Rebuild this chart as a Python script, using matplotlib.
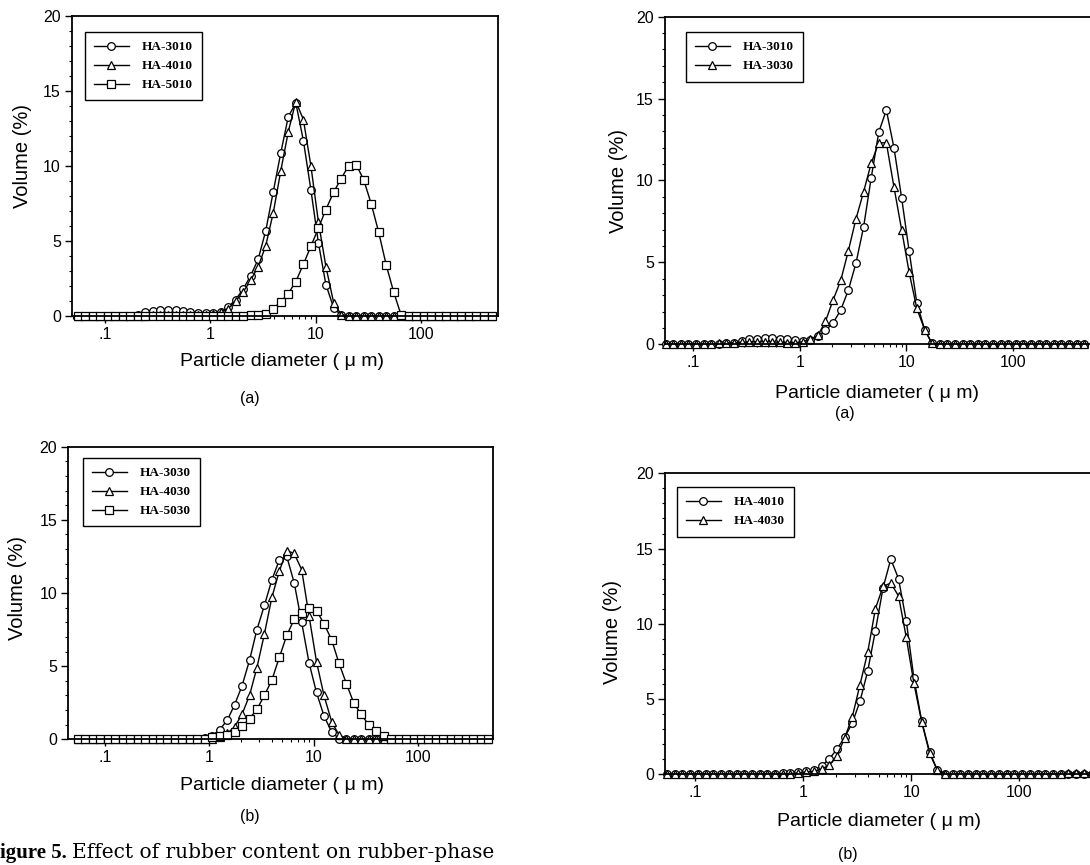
import matplotlib
matplotlib.use('Agg')
import matplotlib.pyplot as plt
from matplotlib.ticker import LogLocator, MultipleLocator, NullFormatter
from matplotlib.font_manager import FontProperties

# size channels of the analyser (um)
d_um = [0.055, 0.0648, 0.0764, 0.0901, 0.106, 0.125, 0.148, 0.174, 0.205, 0.242, 0.285, 0.336, 0.396, 0.467,
        0.55, 0.648, 0.764, 0.901, 1.06, 1.25, 1.48, 1.74, 2.05, 2.42, 2.85, 3.36, 3.96, 4.67,
        5.50, 6.48, 7.64, 9.01, 10.6, 12.5, 14.8, 17.4, 20.5, 24.2, 28.5, 33.6, 39.6, 46.7,
        55.0, 64.8, 76.4, 90.1, 106, 125, 148, 174, 205, 242, 285, 336, 396, 467]

# left (a): HA-3010 / HA-4010 / HA-5010
ha3010_a = [0, 0, 0, 0, 0, 0, 0, 0.02, 0.1, 0.25, 0.35, 0.42, 0.42, 0.38,
            0.32, 0.25, 0.2, 0.18, 0.2, 0.3, 0.6, 1.1, 1.8, 2.7, 3.8, 5.7, 8.3, 10.9,
            13.3, 14.2, 11.7, 8.4, 4.9, 2.1, 0.55, 0.05, 0, 0, 0, 0, 0, 0,
            0, 0, 0, 0, 0, 0, 0, 0, 0, 0, 0, 0, 0, 0]
ha4010_a = [0, 0, 0, 0, 0, 0, 0, 0, 0.02, 0.03, 0.05, 0.05, 0.05, 0.05,
            0.05, 0.05, 0.05, 0.1, 0.15, 0.25, 0.5, 1.0, 1.6, 2.4, 3.3, 4.7, 6.9, 9.7,
            12.3, 14.3, 13.1, 10.0, 6.3, 3.3, 0.9, 0.1, 0, 0, 0, 0, 0, 0,
            0, 0, 0, 0, 0, 0, 0, 0, 0, 0, 0, 0, 0, 0]
ha5010_a = [0, 0, 0, 0, 0, 0, 0, 0, 0, 0, 0, 0, 0, 0,
            0, 0, 0, 0, 0, 0, 0, 0, 0.02, 0.05, 0.1, 0.15, 0.5, 0.95,
            1.5, 2.3, 3.45, 4.65, 5.85, 7.1, 8.25, 9.15, 10.0, 10.1, 9.1, 7.5, 5.6, 3.4,
            1.6, 0.05, 0, 0, 0, 0, 0, 0, 0, 0, 0, 0, 0, 0]

# left (b): HA-3030 / HA-4030 / HA-5030
ha3030_b = [0, 0, 0, 0, 0, 0, 0, 0, 0, 0, 0, 0, 0, 0,
            0, 0, 0, 0.1, 0.25, 0.65, 1.3, 2.35, 3.65, 5.4, 7.5, 9.15, 10.9, 12.25,
            12.5, 10.7, 8.0, 5.2, 3.2, 1.6, 0.5, 0.05, 0, 0, 0, 0, 0, 0,
            0, 0, 0, 0, 0, 0, 0, 0, 0, 0, 0, 0, 0, 0]
ha4030_b = [0, 0, 0, 0, 0, 0, 0, 0, 0, 0, 0, 0, 0, 0,
            0, 0, 0, 0, 0.05, 0.15, 0.4, 0.85, 1.7, 3.0, 4.9, 7.2, 9.7, 11.5,
            12.9, 12.7, 11.6, 8.4, 5.3, 3.0, 1.2, 0.3, 0.05, 0, 0, 0, 0, 0,
            0, 0, 0, 0, 0, 0, 0, 0, 0, 0, 0, 0, 0, 0]
ha5030_b = [0, 0, 0, 0, 0, 0, 0, 0, 0, 0, 0, 0, 0, 0,
            0, 0, 0, 0.05, 0.15, 0.2, 0.3, 0.5, 0.9, 1.4, 2.05, 3.0, 4.05, 5.6,
            7.1, 8.2, 8.6, 9.0, 8.8, 7.9, 6.8, 5.2, 3.8, 2.45, 1.7, 0.97, 0.55, 0.25,
            0.05, 0, 0, 0, 0, 0, 0, 0, 0, 0, 0, 0, 0, 0]

# right (a): HA-3010 / HA-3030
ha3010_c = [0, 0, 0, 0, 0, 0, 0, 0.02, 0.05, 0.1, 0.2, 0.3, 0.35, 0.4,
            0.4, 0.35, 0.3, 0.25, 0.2, 0.28, 0.5, 0.85, 1.3, 2.1, 3.3, 4.95, 7.15, 10.15,
            12.95, 14.3, 12.0, 8.95, 5.7, 2.55, 0.9, 0.05, 0, 0, 0, 0, 0, 0,
            0, 0, 0, 0, 0, 0, 0, 0, 0, 0, 0, 0, 0, 0]
ha3030_c = [0, 0, 0, 0, 0, 0, 0, 0.05, 0.08, 0.1, 0.12, 0.15, 0.15, 0.15,
            0.15, 0.12, 0.1, 0.1, 0.15, 0.3, 0.55, 1.4, 2.7, 3.9, 5.7, 7.65, 9.3, 11.05,
            12.3, 12.3, 9.6, 7.0, 4.4, 2.2, 0.9, 0.05, 0, 0, 0, 0, 0, 0,
            0, 0, 0, 0, 0, 0, 0, 0, 0, 0, 0, 0, 0, 0]

# right (b): HA-4010 / HA-4030
ha4010_d = [0, 0, 0, 0, 0, 0, 0, 0, 0, 0, 0, 0, 0.02, 0.03,
            0.05, 0.07, 0.1, 0.15, 0.2, 0.3, 0.55, 1.0, 1.66, 2.45, 3.4, 4.85, 6.85, 9.55,
            12.4, 14.3, 13.0, 10.2, 6.4, 3.55, 1.5, 0.3, 0.05, 0, 0, 0, 0, 0,
            0, 0, 0, 0, 0, 0, 0, 0, 0, 0, 0, 0, 0, 0]
ha4030_d = [0, 0, 0, 0, 0, 0, 0, 0, 0, 0, 0, 0, 0.02, 0.03,
            0.05, 0.05, 0.05, 0.1, 0.15, 0.2, 0.35, 0.6, 1.2, 2.4, 3.8, 5.95, 8.1, 11.0,
            12.5, 12.7, 11.85, 9.1, 6.05, 3.5, 1.4, 0.3, 0.05, 0, 0, 0, 0, 0,
            0, 0, 0, 0, 0, 0, 0, 0, 0.02, 0.05, 0.08, 0.1, 0.1, 0.1]

xtick_vals = [0.1, 1, 10, 100]
xtick_text = ['.1', '1', '10', '100']
ytick_vals = [0, 5, 10, 15, 20]

W, H = 1090, 865
fig = plt.figure(figsize=(W / 100, H / 100), dpi=100)

sans = 'Liberation Sans'
leg_font = FontProperties(family='Liberation Serif', weight='bold', size=9.5)


def fx(px):
    return px / W


def fy(py):
    return 1 - py / H


def panel(l, t, r, b, xlim, series, leg_xy):
    ax = fig.add_axes([fx(l), fy(b), (r - l) / W, (b - t) / H])
    for name, y, m in series:
        ax.plot(d_um, y, '-', color='k', lw=1.0, marker=m, ms=5.5, mfc='white',
                mec='k', mew=0.9, clip_on=False, label=name)
    ax.set_xscale('log')
    ax.set_xlim(xlim)
    ax.set_ylim(0, 20)
    ax.set_xticks(xtick_vals)
    ax.set_xticklabels(xtick_text)
    ax.xaxis.set_minor_locator(LogLocator(base=10, subs=range(2, 10)))
    ax.xaxis.set_minor_formatter(NullFormatter())
    ax.set_yticks(ytick_vals)
    ax.yaxis.set_minor_locator(MultipleLocator(1))
    ax.tick_params(which='major', direction='out', length=5, width=1, labelsize=11.5, pad=3)
    ax.tick_params(which='minor', direction='out', length=2.5, width=0.8)
    for lab in ax.get_xticklabels() + ax.get_yticklabels():
        lab.set_fontfamily(sans)
    for s in ax.spines.values():
        s.set_linewidth(1.3)
    leg = ax.legend(loc='upper left', bbox_to_anchor=(fx(leg_xy[0]), fy(leg_xy[1])),
                    bbox_transform=fig.transFigure, prop=leg_font, frameon=True,
                    fancybox=False, edgecolor='k', framealpha=1, handlelength=2.6,
                    handletextpad=1.0, labelspacing=0.5, borderpad=0.7, borderaxespad=0)
    leg.get_frame().set_linewidth(1.0)
    return ax


panel(72, 16, 498, 316, (0.0486, 538),
      [('HA-3010', ha3010_a, 'o'), ('HA-4010', ha4010_a, '^'), ('HA-5010', ha5010_a, 's')],
      (85, 32))
panel(665, 16.7, 1093, 344.3, (0.0543, 563),
      [('HA-3010', ha3010_c, 'o'), ('HA-3030', ha3030_c, '^')],
      (686, 32))
panel(68.3, 446.7, 492.7, 739.3, (0.0445, 516),
      [('HA-3030', ha3030_b, 'o'), ('HA-4030', ha4030_b, '^'), ('HA-5030', ha5030_b, 's')],
      (83, 458))
panel(665, 473.3, 1093, 774.3, (0.0527, 482),
      [('HA-4010', ha4010_d, 'o'), ('HA-4030', ha4030_d, '^')],
      (677, 487))

ylab = 'Volume (%)'
xlab = 'Particle diameter ( \u03bc m)'
for x, y in [(23, 156), (619, 181), (18, 588), (612, 632)]:
    fig.text(fx(x), fy(y), ylab, rotation=90, ha='center', va='center', fontsize=14.5, family=sans)
for x, y in [(282, 362), (877, 393), (282, 786), (879, 822)]:
    fig.text(fx(x), fy(y), xlab, ha='center', va='center', fontsize=14, family=sans)
for x, y, s in [(250, 398, '(a)'), (845, 413, '(a)'), (250, 817, '(b)'), (848, 854, '(b)')]:
    fig.text(fx(x), fy(y), s, ha='center', va='center', fontsize=11.5, family=sans)

fig.text(fx(0), fy(853), 'igure 5.', ha='left', va='center', fontsize=15,
         family='Liberation Serif', weight='bold')
fig.text(fx(72), fy(853), 'Effect of rubber content on rubber-phase', ha='left', va='center',
         fontsize=14.5, family='DejaVu Serif')

fig.savefig('out.png', dpi=100)
